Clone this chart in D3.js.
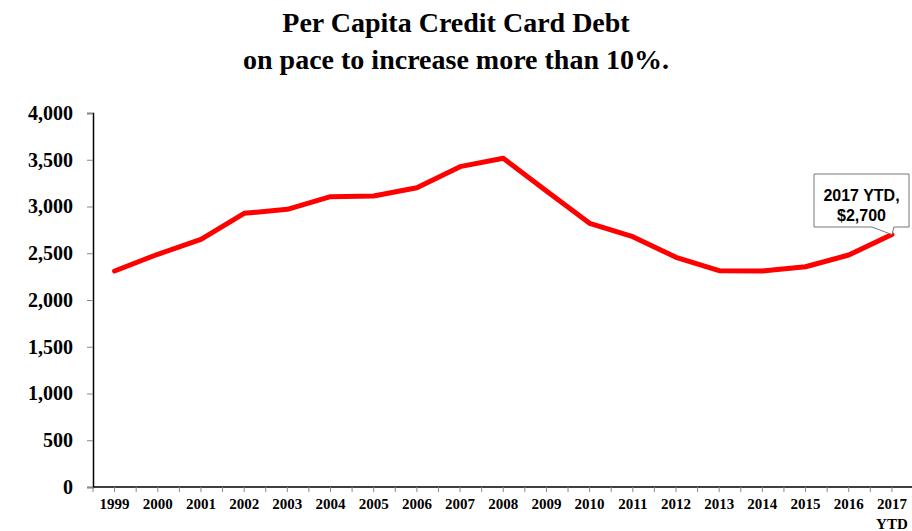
<!DOCTYPE html>
<html>
<head>
<meta charset="utf-8">
<script src="https://cdn.jsdelivr.net/npm/d3@7"></script>
<style>
  body { margin: 0; background: #fff; }
  svg { display: block; }
</style>
</head>
<body>
<svg id="chart"></svg>
<script>
const width = 912
const height = 531

// data
const years = ["1999", "2000", "2001", "2002", "2003", "2004", "2005", "2006", "2007", "2008",
    "2009", "2010", "2011", "2012", "2013", "2014", "2015", "2016", "2017"]
const debt = [2310, 2489, 2649, 2927, 2970, 3105, 3112, 3201, 3426, 3516,
    3165, 2820, 2677, 2457, 2313, 2310, 2356, 2481, 2700]
const y_ticks = [0, 500, 1000, 1500, 2000, 2500, 3000, 3500, 4000]
const title_lines = ["Per Capita Credit Card Debt", "on pace to increase more than 10%."]
const callout_lines = ["2017 YTD,", "$2,700"]

const svg = d3.select("#chart")
    .attr("width", width)
    .attr("height", height)

const plot = { left: 93, right: 913.5, top: 113, bottom: 487 }

let x = d3.scaleBand()
    .domain(years)
    .range([plot.left, plot.right])

let y = d3.scaleLinear()
    .domain([0, 4000])
    .range([plot.bottom, plot.top])

// title
svg.append("g")
    .selectAll("text")
    .data(title_lines)
    .enter()
    .append("text")
    .attr("x", 456)
    .attr("y", (d, i) => 32 + i * 36.5)
    .attr("text-anchor", "middle")
    .style("font-family", "'Liberation Serif', 'Times New Roman', serif")
    .style("font-weight", "bold")
    .style("font-size", "28px")
    .text(d => d)

// y axis
let y_axis = d3.axisLeft(y)
    .tickValues(y_ticks)
    .tickSize(6)
    .tickPadding(14)
    .tickFormat(d3.format(","))

let gy = svg.append("g")
    .attr("transform", `translate(${plot.left},0)`)
    .call(y_axis)
gy.select(".domain").attr("stroke", "#000").attr("stroke-width", 1.5)
gy.selectAll(".tick line").attr("stroke", "#888")
gy.selectAll(".tick text")
    .style("font-family", "'Liberation Serif', 'Times New Roman', serif")
    .style("font-weight", "bold")
    .style("font-size", "20px")
    .attr("fill", "#000")

// x axis: ticks at every category centre and boundary
let gx = svg.append("g")
gx.append("line")
    .attr("x1", plot.left).attr("x2", width)
    .attr("y1", plot.bottom).attr("y2", plot.bottom)
    .attr("stroke", "#000")
    .attr("stroke-width", 1.5)

let tick_pos = []
years.forEach(yr => {
    tick_pos.push(x(yr))
    tick_pos.push(x(yr) + x.bandwidth() / 2)
})
gx.selectAll("line.tk")
    .data(tick_pos)
    .enter()
    .append("line")
    .attr("class", "tk")
    .attr("x1", d => d).attr("x2", d => d)
    .attr("y1", plot.bottom).attr("y2", plot.bottom + 5)
    .attr("stroke", "#888")

gx.selectAll("text")
    .data(years)
    .enter()
    .append("text")
    .attr("x", d => x(d) + x.bandwidth() / 2)
    .attr("y", 509)
    .attr("text-anchor", "middle")
    .style("font-family", "'Liberation Serif', 'Times New Roman', serif")
    .style("font-weight", "bold")
    .style("font-size", "15px")
    .text(d => d)

gx.append("text")
    .attr("x", x("2017") + x.bandwidth() / 2)
    .attr("y", 529)
    .attr("text-anchor", "middle")
    .style("font-family", "'Liberation Serif', 'Times New Roman', serif")
    .style("font-weight", "bold")
    .style("font-size", "15px")
    .text("YTD")

// line
let line = d3.line()
    .x((d, i) => x(years[i]) + x.bandwidth() / 2)
    .y(d => y(d))

svg.append("path")
    .datum(debt)
    .attr("d", line)
    .attr("fill", "none")
    .attr("stroke", "#ff0000")
    .attr("stroke-width", 5)
    .attr("stroke-linejoin", "round")
    .attr("stroke-linecap", "round")

// callout on last point
let last_x = x("2017") + x.bandwidth() / 2
let last_y = y(debt[debt.length - 1])
let bx0 = 814, bx1 = 909, by0 = 174, by1 = 227
svg.append("path")
    .attr("d", `M${bx0},${by0} H${bx1} V${by1} H${last_x + 2} L${last_x},${last_y} L${bx0 + 58},${by1} H${bx0} Z`)
    .attr("fill", "#fff")
    .attr("stroke", "#777")
    .attr("stroke-width", 1)

svg.append("g")
    .selectAll("text")
    .data(callout_lines)
    .enter()
    .append("text")
    .attr("x", (bx0 + bx1) / 2)
    .attr("y", (d, i) => 201 + i * 20)
    .attr("text-anchor", "middle")
    .style("font-family", "'Liberation Sans', Arial, sans-serif")
    .style("font-weight", "bold")
    .style("font-size", "16px")
    .text(d => d)
</script>
</body>
</html>
